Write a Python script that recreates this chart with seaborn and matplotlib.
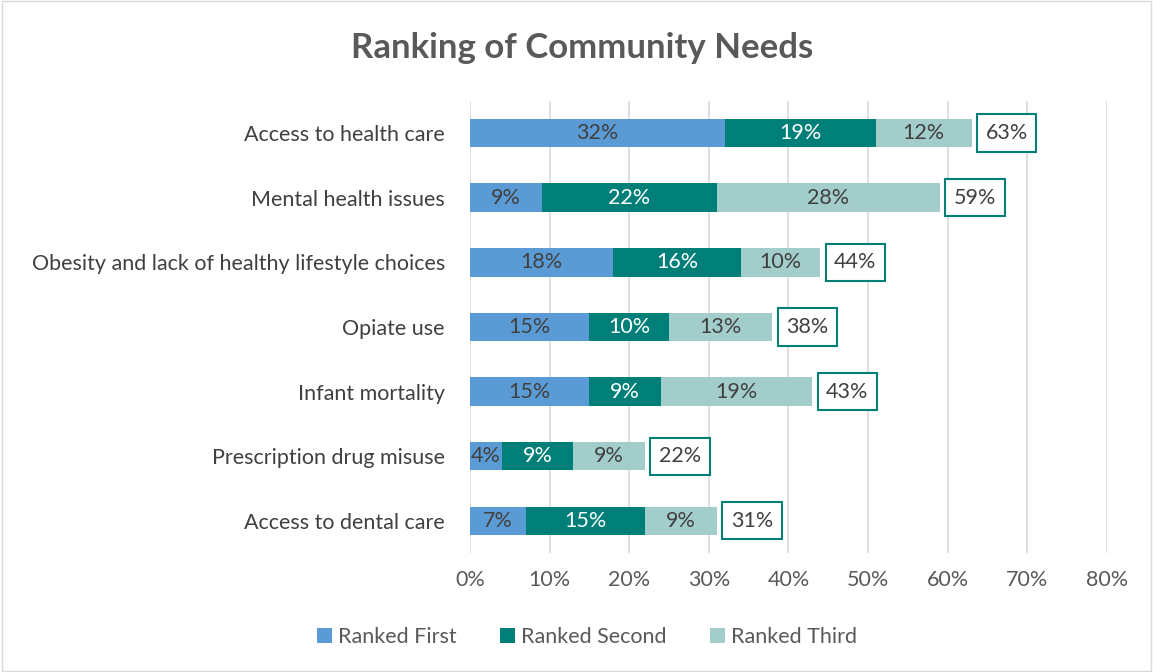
import matplotlib
matplotlib.use("Agg")
import matplotlib.pyplot as plt
import seaborn as sns
import numpy as np
import pandas as pd
from matplotlib.patches import Rectangle

categories = ["Access to health care", "Mental health issues",
              "Obesity and lack of healthy lifestyle choices", "Opiate use",
              "Infant mortality", "Prescription drug misuse", "Access to dental care"]
ranked_first = [32, 9, 18, 15, 15, 4, 7]
ranked_second = [19, 22, 16, 10, 9, 9, 15]
ranked_third = [12, 28, 10, 13, 19, 9, 9]
totals = [63, 59, 44, 38, 43, 22, 31]
series_names = ["Ranked First", "Ranked Second", "Ranked Third"]
colors = ["#5B9BD5", "#007F78", "#A2CDCB"]
text_colors = ["#404040", "white", "#404040"]

sns.set_theme(style="white")
plt.rcParams['font.family'] = ['Lato', 'DejaVu Sans']

FS = 15.5

fig = plt.figure(figsize=(11.53, 6.72), dpi=100)
ax = fig.add_axes([0.4076, 0.177, 0.5524, 0.673])

f = np.array(ranked_first); s = np.array(ranked_second); t = np.array(ranked_third)
layers = [f, f + s, f + s + t]
df = pd.DataFrame({"cat": categories, "c1": layers[0], "c2": layers[1], "c3": layers[2]})

for i in [2, 1, 0]:
    sns.barplot(data=df, y="cat", x=f"c{i+1}", color=colors[i], width=0.44,
                orient="h", ax=ax, saturation=1, edgecolor="none", linewidth=0,
                label=series_names[i], zorder=3)
handles, labels = ax.get_legend_handles_labels()
if ax.get_legend() is not None:
    ax.get_legend().remove()

vals = [f, s, t]
starts = [np.zeros_like(f), f, f + s]
for i in range(3):
    for j in range(len(categories)):
        ax.text(starts[i][j] + vals[i][j] / 2, j, f"{vals[i][j]}%", ha="center", va="center",
                color=text_colors[i], fontsize=FS, zorder=5)

for j, tot in enumerate(totals):
    ax.annotate(f"{tot}%", xy=(layers[2][j], j), xytext=(10, 0), textcoords="offset points",
                ha="left", va="center", fontsize=FS, color="#404040", zorder=6,
                bbox=dict(boxstyle="square,pad=0.4", fc="white", ec="#007F78", lw=1.5))

ax.set_xlim(0, 80)
ax.set_ylim(6.5, -0.5)
ax.set_xticks(range(0, 81, 10))
ax.set_xticklabels([f"{v}%" for v in range(0, 81, 10)])
ax.xaxis.grid(True, color="#D9D9D9", lw=1.2, zorder=0)
ax.set_axisbelow(True)
for sp in ax.spines.values():
    sp.set_visible(False)
ax.set_xlabel(""); ax.set_ylabel("")
ax.tick_params(axis="x", colors="#595959", labelsize=FS, length=0, pad=12)
ax.tick_params(axis="y", colors="#404040", labelsize=FS, length=0, pad=18)
for lab in ax.get_yticklabels():
    lab.set_color("#404040")

order = [labels.index(n) for n in series_names]
fig.legend([handles[k] for k in order], [labels[k] for k in order], loc="center",
           bbox_to_anchor=(587 / 1153, 1 - 637 / 672), ncol=3, frameon=False,
           fontsize=FS, handlelength=0.7, handleheight=0.7, handletextpad=0.3,
           columnspacing=2.0, labelcolor="#595959")

fig.text(582 / 1153, 1 - 48 / 672, "Ranking of Community Needs", ha="center", va="center",
         fontsize=25, fontweight="bold", color="#595959")

fig.patches.append(Rectangle((0.002, 0.002), 0.996, 0.996, transform=fig.transFigure,
                             fill=False, ec="#D9D9D9", lw=1))

fig.savefig("out.png", dpi=100)
